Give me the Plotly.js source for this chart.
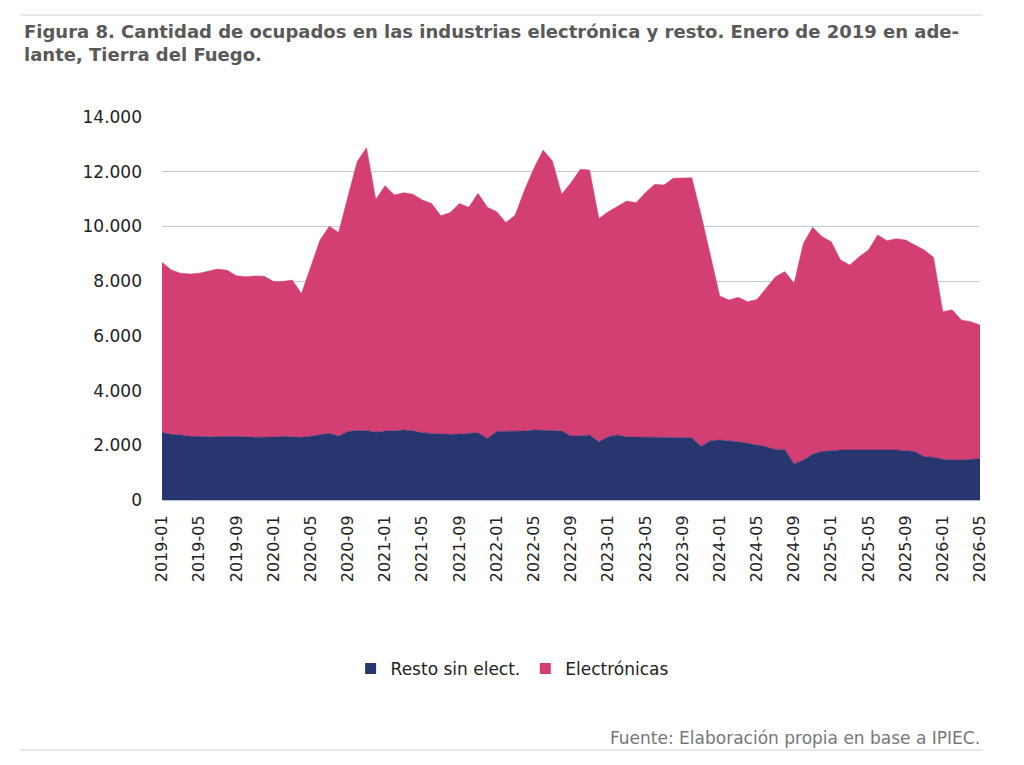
<!DOCTYPE html>
<html>
<head>
<meta charset="utf-8">
<script src="https://cdn.plot.ly/plotly-3.0.1.min.js"></script>
<style>
  html, body { margin: 0; padding: 0; background: #fff; }
  #plot { width: 1024px; height: 765px; }
</style>
</head>
<body>
<div id="plot"></div>
<script>
// meses 2019-01 .. 2026-05
let months = [];
for (let y = 2019; y <= 2026; y++) {
    for (let m = 1; m <= 12; m++) {
        if (y === 2026 && m > 5) break;
        months.push(y + '-' + (m < 10 ? '0' + m : m));
    }
}

let tickLabels = ['2019-01','2019-05','2019-09','2020-01','2020-05','2020-09',
    '2021-01','2021-05','2021-09','2022-01','2022-05','2022-09',
    '2023-01','2023-05','2023-09','2024-01','2024-05','2024-09',
    '2025-01','2025-05','2025-09','2026-01','2026-05'];

let resto = [2470, 2400, 2380, 2330, 2330, 2310, 2320, 2320, 2300, 2320, 2290, 2290,
    2300, 2330, 2300, 2290, 2330, 2390, 2440, 2340, 2500, 2540, 2540, 2480,
    2520, 2530, 2560, 2530, 2460, 2430, 2410, 2400, 2410, 2440, 2460, 2250,
    2500, 2510, 2510, 2520, 2560, 2560, 2540, 2520, 2340, 2340, 2380, 2130,
    2310, 2380, 2310, 2300, 2300, 2290, 2280, 2300, 2300, 2280, 1960, 2170,
    2190, 2170, 2130, 2070, 2010, 1950, 1850, 1850, 1320, 1460, 1680, 1770,
    1800, 1830, 1830, 1820, 1830, 1830, 1830, 1830, 1800, 1770, 1580, 1560,
    1490, 1460, 1460, 1490, 1510];

let electronicas = [6220, 6010, 5910, 5930, 5960, 6060, 6120, 6080, 5900, 5840, 5900, 5890,
    5690, 5660, 5740, 5260, 6210, 7110, 7570, 7440, 8590, 9830, 10340, 8510,
    8970, 8620, 8670, 8650, 8510, 8410, 7980, 8110, 8430, 8260, 8750, 8450,
    8040, 7630, 7910, 8810, 9560, 10230, 9850, 8660, 9260, 9750, 9680, 8160,
    8230, 8370, 8620, 8570, 8930, 9250, 9230, 9460, 9480, 9500, 8460, 6740,
    5270, 5140, 5280, 5180, 5320, 5790, 6310, 6500, 6600, 7920, 8290, 7860,
    7640, 6940, 6760, 7070, 7310, 7860, 7650, 7720, 7700, 7550, 7560, 7310,
    5390, 5490, 5120, 5030, 4890];

const NAVY = '#283670';
const PINK = '#D33E73';
const FONT = 'DejaVu Sans, sans-serif';

let traces = [
    {
        x: months,
        y: resto,
        name: 'Resto sin elect.',
        type: 'scatter',
        mode: 'lines',
        stackgroup: 'one',
        showlegend: false,
        line: {width: 0.5, color: NAVY},
        fillcolor: NAVY
    },
    {
        x: months,
        y: electronicas,
        name: 'Electrónicas',
        type: 'scatter',
        mode: 'lines',
        stackgroup: 'one',
        showlegend: false,
        line: {width: 0.5, color: PINK},
        fillcolor: PINK
    },
    // entradas de leyenda con cuadrado
    {x: [null], y: [null], name: 'Resto sin elect.', type: 'scatter', mode: 'markers',
        marker: {symbol: 'square', size: 11, color: NAVY}},
    {x: [null], y: [null], name: 'Electrónicas', type: 'scatter', mode: 'markers',
        marker: {symbol: 'square', size: 11, color: PINK}}
];

let layout = {
    width: 1024,
    height: 765,
    margin: {l: 162, r: 44, t: 117, b: 265},
    paper_bgcolor: '#fff',
    plot_bgcolor: '#fff',
    separators: ',.',
    font: {family: FONT, color: '#333'},
    xaxis: {
        type: 'category',
        range: [0, months.length - 1],
        tickmode: 'array',
        tickvals: tickLabels,
        ticktext: tickLabels,
        tickangle: -90,
        ticks: '',
        ticklabelstandoff: 8,
        showgrid: false,
        showline: true,
        linecolor: '#b8c0d4',
        linewidth: 1,
        tickfont: {family: FONT, size: 16, color: '#222'},
        fixedrange: true
    },
    yaxis: {
        range: [0, 14000],
        dtick: 2000,
        tickformat: ',d',
        showgrid: true,
        gridcolor: '#c8c8c8',
        gridwidth: 1.2,
        zeroline: false,
        showline: false,
        ticks: '',
        ticklabelstandoff: 19,
        tickfont: {family: FONT, size: 17, color: '#222'},
        fixedrange: true
    },
    showlegend: true,
    legend: {
        orientation: 'h',
        traceorder: 'normal',
        x: 0.428, xanchor: 'center',
        y: -0.441, yanchor: 'middle',
        itemwidth: 30,
        font: {family: FONT, size: 17, color: '#222'}
    },
    annotations: [
        {
            text: '<b>Figura 8. Cantidad de ocupados en las industrias electrónica y resto. Enero de 2019 en ade-<br>lante, Tierra del Fuego.</b>',
            xref: 'paper', yref: 'paper',
            x: -0.171, xanchor: 'left',
            y: 1.256, yanchor: 'top',
            align: 'left',
            showarrow: false,
            font: {family: FONT, size: 18, color: '#595959'}
        },
        {
            text: 'Fuente: Elaboración propia en base a IPIEC.',
            xref: 'paper', yref: 'paper',
            x: 1.0024, xanchor: 'right',
            y: -0.621, yanchor: 'middle',
            showarrow: false,
            font: {family: FONT, size: 17, color: '#777'}
        }
    ],
    shapes: [
        {type: 'line', xref: 'paper', yref: 'paper', x0: -0.1736, x1: 1.0037, y0: 1.2663, y1: 1.2663,
            line: {color: '#e0e0e0', width: 1.5}},
        {type: 'line', xref: 'paper', yref: 'paper', x0: -0.1736, x1: 1.0037, y0: -0.6527, y1: -0.6527,
            line: {color: '#e0e0e0', width: 1.5}}
    ]
};

Plotly.newPlot('plot', traces, layout, {displayModeBar: false, staticPlot: true});
</script>
</body>
</html>
